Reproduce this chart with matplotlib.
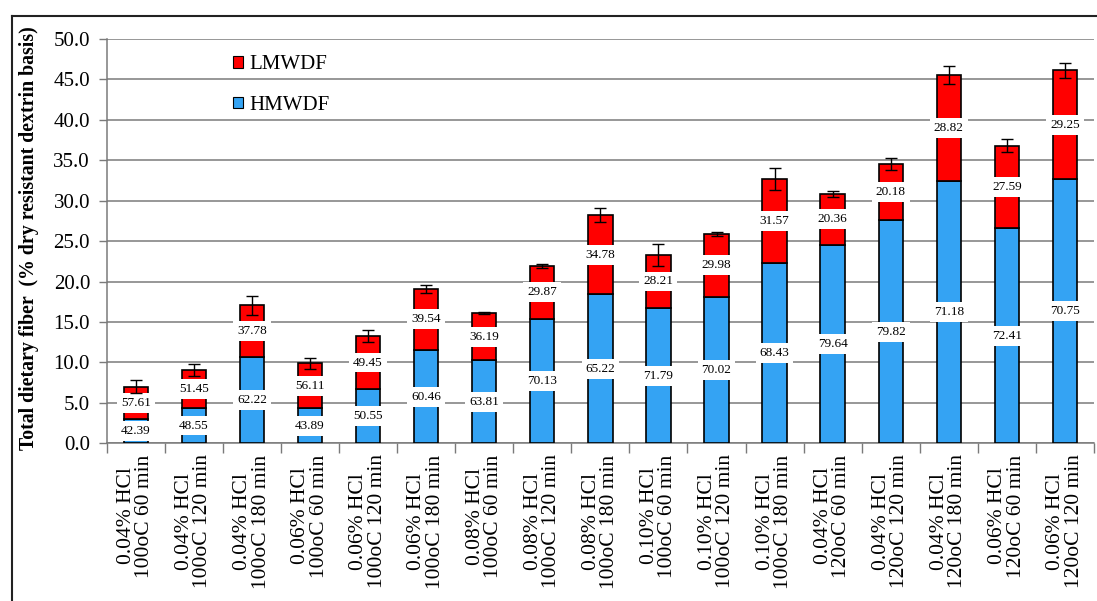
import numpy as np
import matplotlib
matplotlib.use("Agg")
import matplotlib.pyplot as plt
from matplotlib.patches import Patch
from matplotlib.lines import Line2D

plt.rcParams['font.family'] = ['Liberation Serif', 'DejaVu Serif']

# Treatment conditions (HCl level, temperature, time)
categories = [
    "0.04% HCl\n100oC 60 min", "0.04% HCl\n100oC 120 min", "0.04% HCl\n100oC 180 min",
    "0.06% HCl\n100oC 60 min", "0.06% HCl\n100oC 120 min", "0.06% HCl\n100oC 180 min",
    "0.08% HCl\n100oC 60 min", "0.08% HCl\n100oC 120 min", "0.08% HCl\n100oC 180 min",
    "0.10% HCl\n100oC 60 min", "0.10% HCl\n100oC 120 min", "0.10% HCl\n100oC 180 min",
    "0.04% HCl\n120oC 60 min", "0.04% HCl\n120oC 120 min", "0.04% HCl\n120oC 180 min",
    "0.06% HCl\n120oC 60 min", "0.06% HCl\n120oC 120 min",
]

# Total dietary fiber (% dry resistant dextrin basis)
total_fiber = [7.0, 9.06, 17.06, 9.89, 13.27, 19.12, 16.11, 21.96, 28.23,
               23.3, 25.88, 32.65, 30.86, 34.54, 45.5, 36.8, 46.12]
total_err = [0.83, 0.74, 1.15, 0.7, 0.75, 0.5, 0.1, 0.25, 0.9,
             1.4, 0.2, 1.35, 0.35, 0.75, 1.1, 0.8, 0.9]

# Share of high-molecular-weight fraction (%); the rest is LMWDF
hmwdf_pct = [42.39, 48.55, 62.22, 43.89, 50.55, 60.46, 63.81, 70.13, 65.22,
             71.79, 70.02, 68.43, 79.64, 79.82, 71.18, 72.41, 70.75]
lmwdf_pct = [57.61, 51.45, 37.78, 56.11, 49.45, 39.54, 36.19, 29.87, 34.78,
             28.21, 29.98, 31.57, 20.36, 20.18, 28.82, 27.59, 29.25]

yticks = [0, 5, 10, 15, 20, 25, 30, 35, 40, 45, 50]

total = np.array(total_fiber)
hmw = total * np.array(hmwdf_pct) / 100.0
lmw = total * np.array(lmwdf_pct) / 100.0
x = np.arange(len(categories))

blue = '#34A3F3'
red = '#FF0000'
grid_c = '#7a7a7a'

fig = plt.figure(figsize=(10.97, 6.01), dpi=100)
ax = fig.add_axes([106.7 / 1097, 1 - 443.3 / 601, (1094 - 106.7) / 1097, (443.3 - 39) / 601])

w = 0.42
ax.bar(x, hmw, w, color=blue, edgecolor='black', linewidth=1.2, zorder=3)
ax.bar(x, lmw, w, bottom=hmw, color=red, edgecolor='black', linewidth=1.2, zorder=3)
ax.errorbar(x, total, yerr=total_err, fmt='none', ecolor='black', elinewidth=1.0,
            capsize=4, capthick=1.0, zorder=6)

box = dict(boxstyle='square,pad=0.3', facecolor='white', edgecolor='none')
for xi, h, l, hp, lp in zip(x, hmw, lmw, hmwdf_pct, lmwdf_pct):
    ax.text(xi, h / 2, f"{hp:.2f}", ha='center', va='center', fontsize=9.5,
            bbox=box, zorder=5)
    ax.text(xi, h + l / 2, f"{lp:.2f}", ha='center', va='center', fontsize=9.5,
            bbox=box, zorder=5)

ax.set_xlim(-0.5, len(categories) - 0.5)
ax.set_ylim(0, 50)
ax.set_yticks(yticks)
ax.set_yticklabels([f"{v:.1f}" for v in yticks], fontsize=15)
ax.yaxis.grid(True, color=grid_c, linewidth=1.1, zorder=0)
ax.set_axisbelow(True)

ax.set_xticks(x)
ax.set_xticklabels(categories, rotation=90, fontsize=15.5, ha='center', va='top',
                   multialignment='center', linespacing=0.95)
ax.tick_params(axis='x', length=0, pad=8)
ax.set_xticks(np.arange(-0.5, len(categories)), minor=True)
ax.tick_params(axis='x', which='minor', length=7, width=1.0, color=grid_c, direction='out')
ax.tick_params(axis='y', length=6, width=1.0, color=grid_c, direction='out', pad=6)

for s in ['top', 'right']:
    ax.spines[s].set_visible(False)
for s in ['left', 'bottom']:
    ax.spines[s].set_color(grid_c)
    ax.spines[s].set_linewidth(1.1)

fig.text(29 / 1097, 1 - 238 / 601,
         "Total dietary fiber  (% dry resistant dextrin basis)",
         rotation=90, ha='center', va='center', fontsize=14.3, fontweight='bold')

handles = [Patch(facecolor=red, edgecolor='black', linewidth=0.8, label='LMWDF'),
           Patch(facecolor=blue, edgecolor='black', linewidth=0.8, label='HMWDF')]
ax.legend(handles=handles, loc='upper left', bbox_to_anchor=(233 / 1097, 1 - 55 / 601),
          bbox_transform=fig.transFigure, frameon=False, fontsize=15,
          handlelength=0.5, handleheight=0.5, handletextpad=0.3, labelspacing=1.05,
          borderaxespad=0, borderpad=0)

# outer chart frame
fig.add_artist(Line2D([12 / 1097, 12 / 1097], [0, 1 - 16 / 601], color='#222222',
                      linewidth=1.5, transform=fig.transFigure))
fig.add_artist(Line2D([12 / 1097, 1], [1 - 16 / 601, 1 - 16 / 601], color='#222222',
                      linewidth=1.5, transform=fig.transFigure))

fig.savefig('out.png', dpi=100)
